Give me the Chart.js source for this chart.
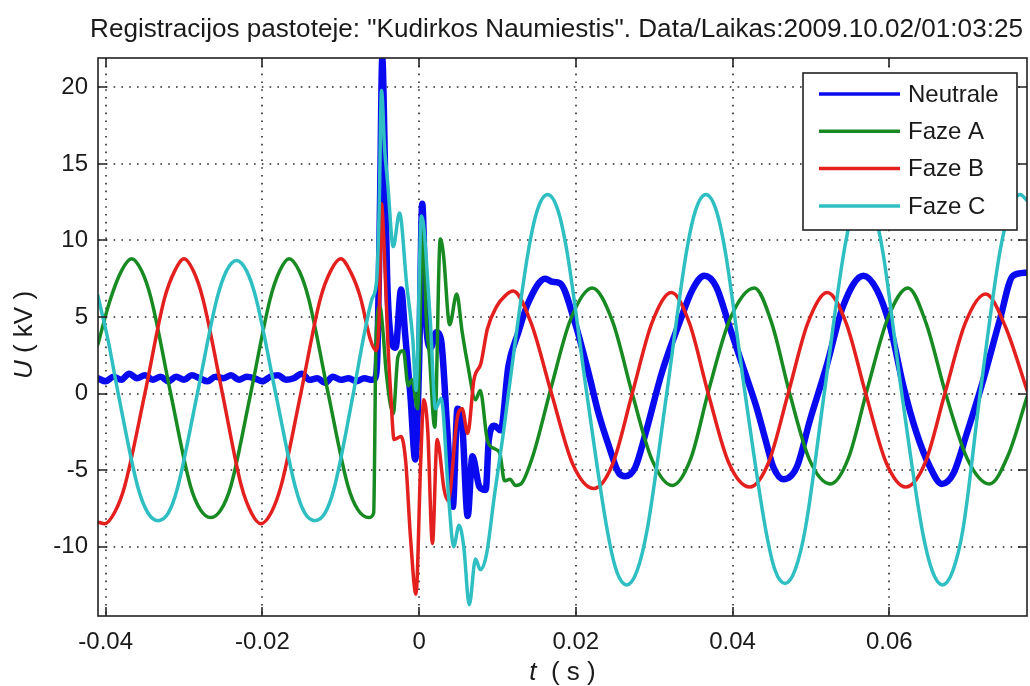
<!DOCTYPE html>
<html>
<head>
<meta charset="utf-8">
<script src="https://cdn.jsdelivr.net/npm/chart.js@4.4.1/dist/chart.umd.min.js"></script>
<style>
  html, body { margin: 0; padding: 0; background: #fff; }
  #wrap { width: 1030px; height: 686px; }
</style>
</head>
<body>
<div id="wrap"><canvas id="chart" width="1030" height="686"></canvas></div>
<script>
const titel = 'Registracijos pastoteje: "Kudirkos Naumiestis". Data/Laikas:2009.10.02/01:03:25';
const serienNamen = ["Neutrale", "Faze A", "Faze B", "Faze C"];
const xTicks = [-0.04, -0.02, 0, 0.02, 0.04, 0.06];
const yTicks = [-10, -5, 0, 5, 10, 15, 20];

// [t (s), U (kV)]
const neutrale = [
  [-0.0410, 1.0], [-0.0400, 0.8], [-0.0390, 1.1], [-0.0380, 0.9], [-0.0370, 1.3],
  [-0.0360, 1.0], [-0.0350, 1.2], [-0.0340, 0.9], [-0.0330, 1.1], [-0.0320, 0.8],
  [-0.0310, 1.1], [-0.0300, 0.9], [-0.0290, 1.2], [-0.0280, 1.0], [-0.0270, 0.8],
  [-0.0260, 1.1], [-0.0250, 1.0], [-0.0240, 1.2], [-0.0230, 0.9], [-0.0220, 1.1],
  [-0.0210, 1.0], [-0.0200, 0.8], [-0.0190, 1.1], [-0.0180, 1.2], [-0.0170, 0.9],
  [-0.0160, 1.0], [-0.0150, 1.3], [-0.0140, 0.9], [-0.0130, 1.0], [-0.0120, 0.7],
  [-0.0110, 1.1], [-0.0100, 0.9], [-0.0090, 1.0], [-0.0080, 0.8], [-0.0070, 1.0],
  [-0.0060, 0.9], [-0.0056, 1.0],
  [-0.0053, 3.0], [-0.0050, 12.0], [-0.0047, 21.9], [-0.0044, 16.0], [-0.0041, 8.0],
  [-0.0037, 4.0], [-0.0030, 3.0], [-0.0023, 6.8], [-0.0018, 4.0], [-0.0011, -0.2],
  [-0.0005, -4.3], [0.0000, 2.0], [0.0004, 12.4], [0.0009, 4.5], [0.0015, 3.0],
  [0.0022, 4.0], [0.0028, 3.5], [0.0036, -2.4], [0.0043, -7.4], [0.0049, -1.0],
  [0.0055, -2.0], [0.0062, -8.0], [0.0068, -4.1], [0.0077, -6.1], [0.0085, -6.3],
  [0.0089, -3.0], [0.0096, -2.1], [0.0104, -2.4], [0.0114, 1.8], [0.0126, 3.9],
  [0.0139, 5.9], [0.0161, 7.5], [0.0170, 7.3], [0.0180, 7.2], [0.0199, 4.6],
  [0.0216, 1.4], [0.0229, -1.3], [0.0242, -3.4], [0.0255, -5.2], [0.0263, -5.4],
  [0.0276, -4.8], [0.0289, -2.6], [0.0310, 1.4], [0.0332, 4.6], [0.0349, 6.8],
  [0.0364, 7.7], [0.0379, 7.0], [0.0396, 4.4], [0.0413, 1.8], [0.0430, -0.8],
  [0.0443, -3.2], [0.0452, -4.8], [0.0465, -5.6], [0.0482, -4.8], [0.0499, -1.7],
  [0.0520, 1.8], [0.0541, 5.7], [0.0567, 7.7], [0.0584, 6.8], [0.0601, 4.4],
  [0.0618, 0.5], [0.0635, -2.6], [0.0652, -4.8], [0.0667, -5.9], [0.0682, -5.2],
  [0.0699, -2.6], [0.0720, 0.9], [0.0741, 4.8], [0.0758, 7.7], [0.0776, 7.9]
];

const fazeA = [
  [-0.0410, 3.2], [-0.0395, 6.0], [-0.0380, 8.0], [-0.0367, 8.8], [-0.0354, 8.0],
  [-0.0342, 6.2], [-0.0317, 0.0], [-0.0292, -6.0], [-0.0279, -7.6], [-0.0266, -8.1],
  [-0.0253, -7.6], [-0.0240, -6.0], [-0.0215, 0.0], [-0.0190, 6.2], [-0.0178, 8.0],
  [-0.0166, 8.8], [-0.0153, 8.0], [-0.0141, 6.2], [-0.0116, 0.0], [-0.0091, -6.0],
  [-0.0078, -7.6], [-0.0064, -8.1], [-0.0058, -7.8],
  [-0.0055, 3.5], [-0.0050, 5.7], [-0.0046, 4.0], [-0.0042, 1.4], [-0.0033, -1.3],
  [-0.0027, 2.4], [-0.0020, 2.8], [-0.0014, 0.5], [-0.0009, 0.9], [-0.0002, -1.0],
  [0.0005, 11.3], [0.0009, 5.0], [0.0013, 2.6], [0.0020, -2.2], [0.0027, 10.1],
  [0.0031, 9.1], [0.0039, 4.5], [0.0048, 6.5], [0.0055, 4.0], [0.0062, 1.9],
  [0.0072, -0.4], [0.0078, 0.2], [0.0087, -3.0], [0.0096, -3.6], [0.0103, -3.9],
  [0.0109, -5.7], [0.0116, -5.6], [0.0123, -6.0], [0.0130, -5.9], [0.0145, -4.1],
  [0.0168, 0.3], [0.0193, 4.8], [0.0221, 6.9], [0.0247, 4.7], [0.0272, 0.0],
  [0.0297, -4.3], [0.0323, -6.0], [0.0347, -4.2], [0.0370, 0.3], [0.0397, 4.9],
  [0.0428, 6.9], [0.0450, 4.6], [0.0473, 0.0], [0.0498, -4.3], [0.0525, -5.9],
  [0.0548, -4.2], [0.0572, 0.3], [0.0598, 4.9], [0.0624, 6.9], [0.0647, 4.6],
  [0.0672, 0.0], [0.0700, -4.3], [0.0728, -5.9], [0.0752, -4.0], [0.0776, -0.2]
];

const fazeB = [
  [-0.0410, -8.4], [-0.0401, -8.5], [-0.0388, -7.7], [-0.0376, -6.1], [-0.0350, 0.0],
  [-0.0325, 6.2], [-0.0312, 8.0], [-0.0300, 8.8], [-0.0288, 8.0], [-0.0276, 6.2],
  [-0.0251, 0.0], [-0.0227, -6.0], [-0.0214, -7.8], [-0.0202, -8.5], [-0.0189, -7.8],
  [-0.0176, -6.0], [-0.0151, 0.0], [-0.0126, 6.2], [-0.0113, 8.0], [-0.0100, 8.8],
  [-0.0087, 7.9], [-0.0075, 6.3], [-0.0062, 3.5], [-0.0055, 2.8],
  [-0.0051, 5.0], [-0.0048, 12.4], [-0.0045, 10.0], [-0.0040, 3.5], [-0.0036, -0.2],
  [-0.0032, -3.0], [-0.0023, -2.8], [-0.0017, -4.5], [-0.0011, -9.4], [-0.0004, -13.1],
  [0.0002, -4.5], [0.0006, -0.4], [0.0011, -2.4], [0.0017, -9.8], [0.0023, -3.0],
  [0.0032, -6.3], [0.0037, -7.0], [0.0049, -1.5], [0.0055, -1.0], [0.0062, -2.6],
  [0.0070, 0.9], [0.0079, 2.0], [0.0087, 4.2], [0.0099, 5.7], [0.0110, 6.4],
  [0.0120, 6.7], [0.0143, 4.6], [0.0169, 0.0], [0.0196, -4.6], [0.0223, -6.2],
  [0.0247, -4.6], [0.0272, 0.0], [0.0297, 4.6], [0.0322, 6.6], [0.0345, 4.6],
  [0.0369, 0.0], [0.0395, -4.5], [0.0422, -6.1], [0.0446, -4.5], [0.0471, 0.0],
  [0.0496, 4.6], [0.0521, 6.6], [0.0545, 4.6], [0.0570, 0.0], [0.0596, -4.5],
  [0.0621, -6.1], [0.0646, -4.5], [0.0671, 0.0], [0.0697, 4.6], [0.0723, 6.5],
  [0.0748, 4.4], [0.0776, 0.2]
];

const fazeC = [
  [-0.0410, 6.4], [-0.0397, 3.5], [-0.0384, 0.0], [-0.0359, -6.1], [-0.0346, -7.8],
  [-0.0333, -8.3], [-0.0320, -7.8], [-0.0308, -6.1], [-0.0283, 0.0], [-0.0258, 6.2],
  [-0.0246, 8.0], [-0.0233, 8.7], [-0.0220, 8.0], [-0.0208, 6.2], [-0.0183, 0.0],
  [-0.0158, -6.1], [-0.0146, -7.8], [-0.0133, -8.3], [-0.0120, -7.8], [-0.0108, -6.1],
  [-0.0084, 0.0], [-0.0070, 3.9], [-0.0060, 6.2], [-0.0054, 7.5],
  [-0.0051, 12.0], [-0.0048, 19.8], [-0.0044, 16.0], [-0.0040, 13.7], [-0.0033, 9.6],
  [-0.0025, 11.8], [-0.0016, 7.2], [-0.0008, 3.5], [-0.0004, 0.2], [0.0003, 11.6],
  [0.0014, 5.0], [0.0021, -1.0], [0.0028, -0.3], [0.0038, -7.0], [0.0044, -10.0],
  [0.0051, -8.6], [0.0057, -10.0], [0.0064, -13.8], [0.0072, -10.8], [0.0078, -11.5],
  [0.0086, -10.5], [0.0096, -6.7], [0.0108, -2.4], [0.0114, 0.0], [0.0139, 9.2],
  [0.0151, 12.0], [0.0164, 13.0], [0.0177, 12.0], [0.0189, 9.2], [0.0214, 0.0],
  [0.0240, -8.9], [0.0252, -11.6], [0.0265, -12.5], [0.0278, -11.6], [0.0291, -8.9],
  [0.0316, 0.0], [0.0341, 9.2], [0.0353, 12.0], [0.0366, 13.0], [0.0379, 12.0],
  [0.0391, 9.2], [0.0416, 0.0], [0.0442, -8.8], [0.0454, -11.5], [0.0467, -12.4],
  [0.0480, -11.5], [0.0493, -8.8], [0.0517, 0.0], [0.0542, 9.2], [0.0554, 12.0],
  [0.0567, 13.0], [0.0580, 12.0], [0.0592, 9.2], [0.0616, 0.0], [0.0642, -8.9],
  [0.0655, -11.6], [0.0668, -12.5], [0.0681, -11.6], [0.0694, -8.9], [0.0716, 0.0],
  [0.0741, 9.2], [0.0754, 12.0], [0.0767, 13.0], [0.0776, 12.6]
];

const FONT = '"Liberation Sans", Arial, Helvetica, sans-serif';
Chart.defaults.font.family = FONT;

function punkte(reihe) {
  return reihe.map(p => ({ x: p[0], y: p[1] }));
}

function linie(i, daten, farbe, breite) {
  return {
    label: serienNamen[i],
    data: punkte(daten),
    borderColor: farbe,
    borderWidth: breite,
    pointRadius: 0,
    cubicInterpolationMode: 'monotone',
    borderJoinStyle: 'round',
    borderCapStyle: 'round',
    clip: 0,
    order: 4 - i
  };
}

// MATLAB look: dotted grid, box, inward ticks, legend box, title, axis labels
const matlabRahmen = {
  id: 'matlabRahmen',
  beforeDatasetsDraw(chart) {
    const { ctx, chartArea: a, scales } = chart;
    ctx.save();
    ctx.strokeStyle = '#2a2a2a';
    ctx.lineWidth = 1.6;
    ctx.setLineDash([1.6, 6.2]);
    xTicks.forEach(v => {
      const px = Math.round(scales.x.getPixelForValue(v));
      ctx.beginPath(); ctx.moveTo(px, a.top); ctx.lineTo(px, a.bottom); ctx.stroke();
    });
    yTicks.forEach(v => {
      const py = Math.round(scales.y.getPixelForValue(v));
      ctx.beginPath(); ctx.moveTo(a.left, py); ctx.lineTo(a.right, py); ctx.stroke();
    });
    ctx.restore();
  },
  afterDatasetsDraw(chart) {
    const { ctx, chartArea: a, scales } = chart;
    ctx.save();
    ctx.strokeStyle = '#222';
    ctx.lineWidth = 1.6;
    ctx.strokeRect(a.left, a.top, a.right - a.left, a.bottom - a.top);
    const len = 9;
    ctx.beginPath();
    xTicks.forEach(v => {
      const px = Math.round(scales.x.getPixelForValue(v));
      ctx.moveTo(px, a.bottom); ctx.lineTo(px, a.bottom - len);
      ctx.moveTo(px, a.top); ctx.lineTo(px, a.top + len);
    });
    yTicks.forEach(v => {
      const py = Math.round(scales.y.getPixelForValue(v));
      ctx.moveTo(a.left, py); ctx.lineTo(a.left + len, py);
      ctx.moveTo(a.right, py); ctx.lineTo(a.right - len, py);
    });
    ctx.stroke();

    // legend box in the upper right corner
    const bx = a.right - 224, by = a.top + 15, bw = 214, bh = 157;
    ctx.fillStyle = '#fff';
    ctx.fillRect(bx, by, bw, bh);
    ctx.strokeStyle = '#222';
    ctx.lineWidth = 1.6;
    ctx.strokeRect(bx, by, bw, bh);
    ctx.font = '24px ' + FONT;
    ctx.textBaseline = 'middle';
    ctx.textAlign = 'left';
    chart.data.datasets.forEach((ds, i) => {
      const yy = by + 21 + i * 37.3;
      ctx.strokeStyle = ds.borderColor;
      ctx.lineWidth = 3.5;
      ctx.beginPath(); ctx.moveTo(bx + 16, yy); ctx.lineTo(bx + 97, yy); ctx.stroke();
      ctx.fillStyle = '#1a1a1a';
      ctx.fillText(ds.label, bx + 105, yy + 1);
    });
    ctx.restore();
  },
  afterDraw(chart) {
    const { ctx, chartArea: a } = chart;
    ctx.save();
    ctx.fillStyle = '#1a1a1a';
    ctx.textBaseline = 'middle';

    // title, fitted to the width it has in the original
    ctx.font = '24px ' + FONT;
    const groesse = 24 * 933 / ctx.measureText(titel).width;
    ctx.font = groesse.toFixed(2) + 'px ' + FONT;
    ctx.textAlign = 'center';
    ctx.fillText(titel, 556.5, 30);

    // x label: italic t
    zeichneTeile(ctx, [['t', true], ['  ( s )', false]], (a.left + a.right) / 2, 673);

    // y label: italic U, rotated
    ctx.translate(25, (a.top + a.bottom) / 2 - 2);
    ctx.rotate(-Math.PI / 2);
    zeichneTeile(ctx, [['U', true], [' ( kV )', false]], 0, 0);
    ctx.restore();
  }
};

function zeichneTeile(ctx, teile, cx, cy) {
  let gesamt = 0;
  teile.forEach(([txt, kursiv]) => {
    ctx.font = (kursiv ? 'italic ' : '') + '26px ' + FONT;
    gesamt += ctx.measureText(txt).width;
  });
  let x = cx - gesamt / 2;
  ctx.textAlign = 'left';
  teile.forEach(([txt, kursiv]) => {
    ctx.font = (kursiv ? 'italic ' : '') + '26px ' + FONT;
    ctx.fillText(txt, x, cy);
    x += ctx.measureText(txt).width;
  });
}

new Chart(document.getElementById('chart'), {
  type: 'line',
  data: {
    datasets: [
      linie(0, neutrale, '#0a0af0', 6.5),
      linie(1, fazeA, '#178a22', 3.5),
      linie(2, fazeB, '#e3201e', 3.5),
      linie(3, fazeC, '#2fbfc2', 3.5)
    ]
  },
  options: {
    responsive: false,
    animation: false,
    devicePixelRatio: 1,
    parsing: false,
    layout: { padding: { top: 58, right: 3, bottom: 0, left: 0 } },
    plugins: {
      legend: { display: false },
      title: { display: false },
      tooltip: { enabled: false }
    },
    scales: {
      x: {
        type: 'linear',
        min: -0.04098,
        max: 0.07758,
        grid: { display: false },
        border: { display: false },
        afterBuildTicks: s => { s.ticks = xTicks.map(v => ({ value: v })); },
        afterFit: s => { s.height = 70; },
        ticks: {
          padding: 4,
          color: '#1a1a1a',
          font: { size: 24 },
          maxRotation: 0,
          autoSkip: false,
          callback: v => (v === 0 ? '0' : v.toFixed(2))
        }
      },
      y: {
        type: 'linear',
        min: -14.53,
        max: 21.92,
        grid: { display: false },
        border: { display: false },
        afterBuildTicks: s => { s.ticks = yTicks.map(v => ({ value: v })); },
        afterFit: s => { s.width = 98; },
        ticks: {
          padding: 2,
          color: '#1a1a1a',
          font: { size: 24 },
          autoSkip: false,
          callback: v => String(v)
        }
      }
    }
  },
  plugins: [matlabRahmen]
});
</script>
</body>
</html>
